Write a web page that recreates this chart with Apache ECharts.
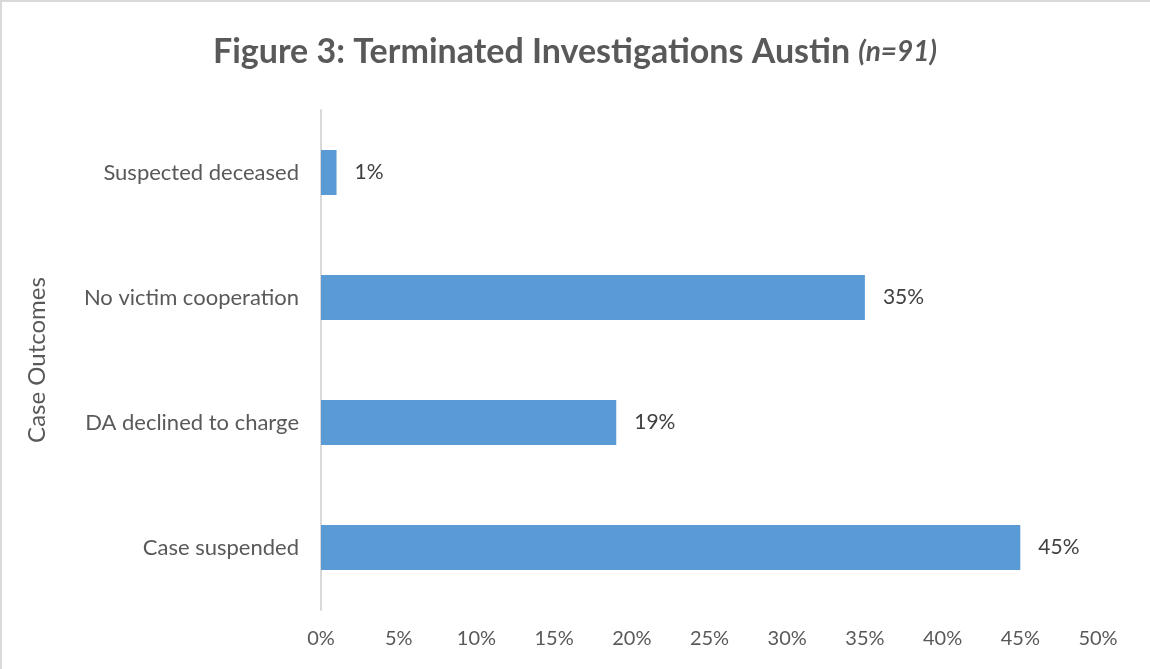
<!DOCTYPE html>
<html>
<head>
<meta charset="utf-8">
<script src="https://cdn.jsdelivr.net/npm/echarts@6/dist/echarts.min.js"></script>
<style>
html,body{margin:0;padding:0;background:#fff;}
#chart{width:1150px;height:669px;}
</style>
</head>
<body>
<div id="chart"></div>
<script>
const categories = ["Case suspended", "DA declined to charge", "No victim cooperation", "Suspected deceased"];
const values = [45, 19, 35, 1];
const xTicks = [0, 5, 10, 15, 20, 25, 30, 35, 40, 45, 50];
const titleMain = "Figure 3: Terminated Investigations Austin ";
const titleSub = "(n=91)";
const yAxisName = "Case Outcomes";

const FONT = "Lato";
const chart = echarts.init(document.getElementById('chart'), null, {renderer: 'canvas'});
chart.setOption({
  backgroundColor: '#ffffff',
  animation: false,
  graphic: [{
    type: 'rect', shape: {x: 1, y: 1, width: 1160, height: 680},
    style: {fill: 'none', stroke: '#d9d9d9', lineWidth: 2}, silent: true
  }],
  title: {
    text: '{a|' + titleMain + '}{b|' + titleSub + '}',
    left: 'center',
    top: 30,
    textStyle: {
      rich: {
        a: {fontFamily: FONT, fontWeight: 'bold', fontSize: 34, color: '#595959'},
        b: {fontFamily: FONT, fontWeight: 'bold', fontStyle: 'italic', fontSize: 28, color: '#595959'}
      }
    }
  },
  grid: {left: 321, right: 52, top: 110, bottom: 59, containLabel: false},
  xAxis: {
    type: 'value',
    min: xTicks[0],
    max: xTicks[xTicks.length - 1],
    interval: 5,
    axisLine: {show: false},
    axisTick: {show: false},
    splitLine: {show: false},
    axisLabel: {
      formatter: v => v + '%',
      fontFamily: FONT, fontSize: 20, color: '#595959', margin: 19
    }
  },
  yAxis: {
    type: 'category',
    data: categories,
    name: yAxisName,
    nameLocation: 'middle',
    nameRotate: 90,
    nameGap: 272,
    nameTextStyle: {fontFamily: FONT, fontSize: 24, color: '#595959'},
    axisLine: {show: true, lineStyle: {color: '#d9d9d9', width: 2}},
    axisTick: {show: false},
    axisLabel: {fontFamily: FONT, fontSize: 22, color: '#595959', margin: 22}
  },
  series: [{
    type: 'bar',
    data: values,
    barWidth: 45,
    itemStyle: {color: '#5b9bd5'},
    label: {
      show: true,
      position: 'right',
      distance: 18,
      formatter: p => p.value + '%',
      fontFamily: FONT, fontSize: 21, color: '#404040'
    }
  }]
});
</script>
</body>
</html>
